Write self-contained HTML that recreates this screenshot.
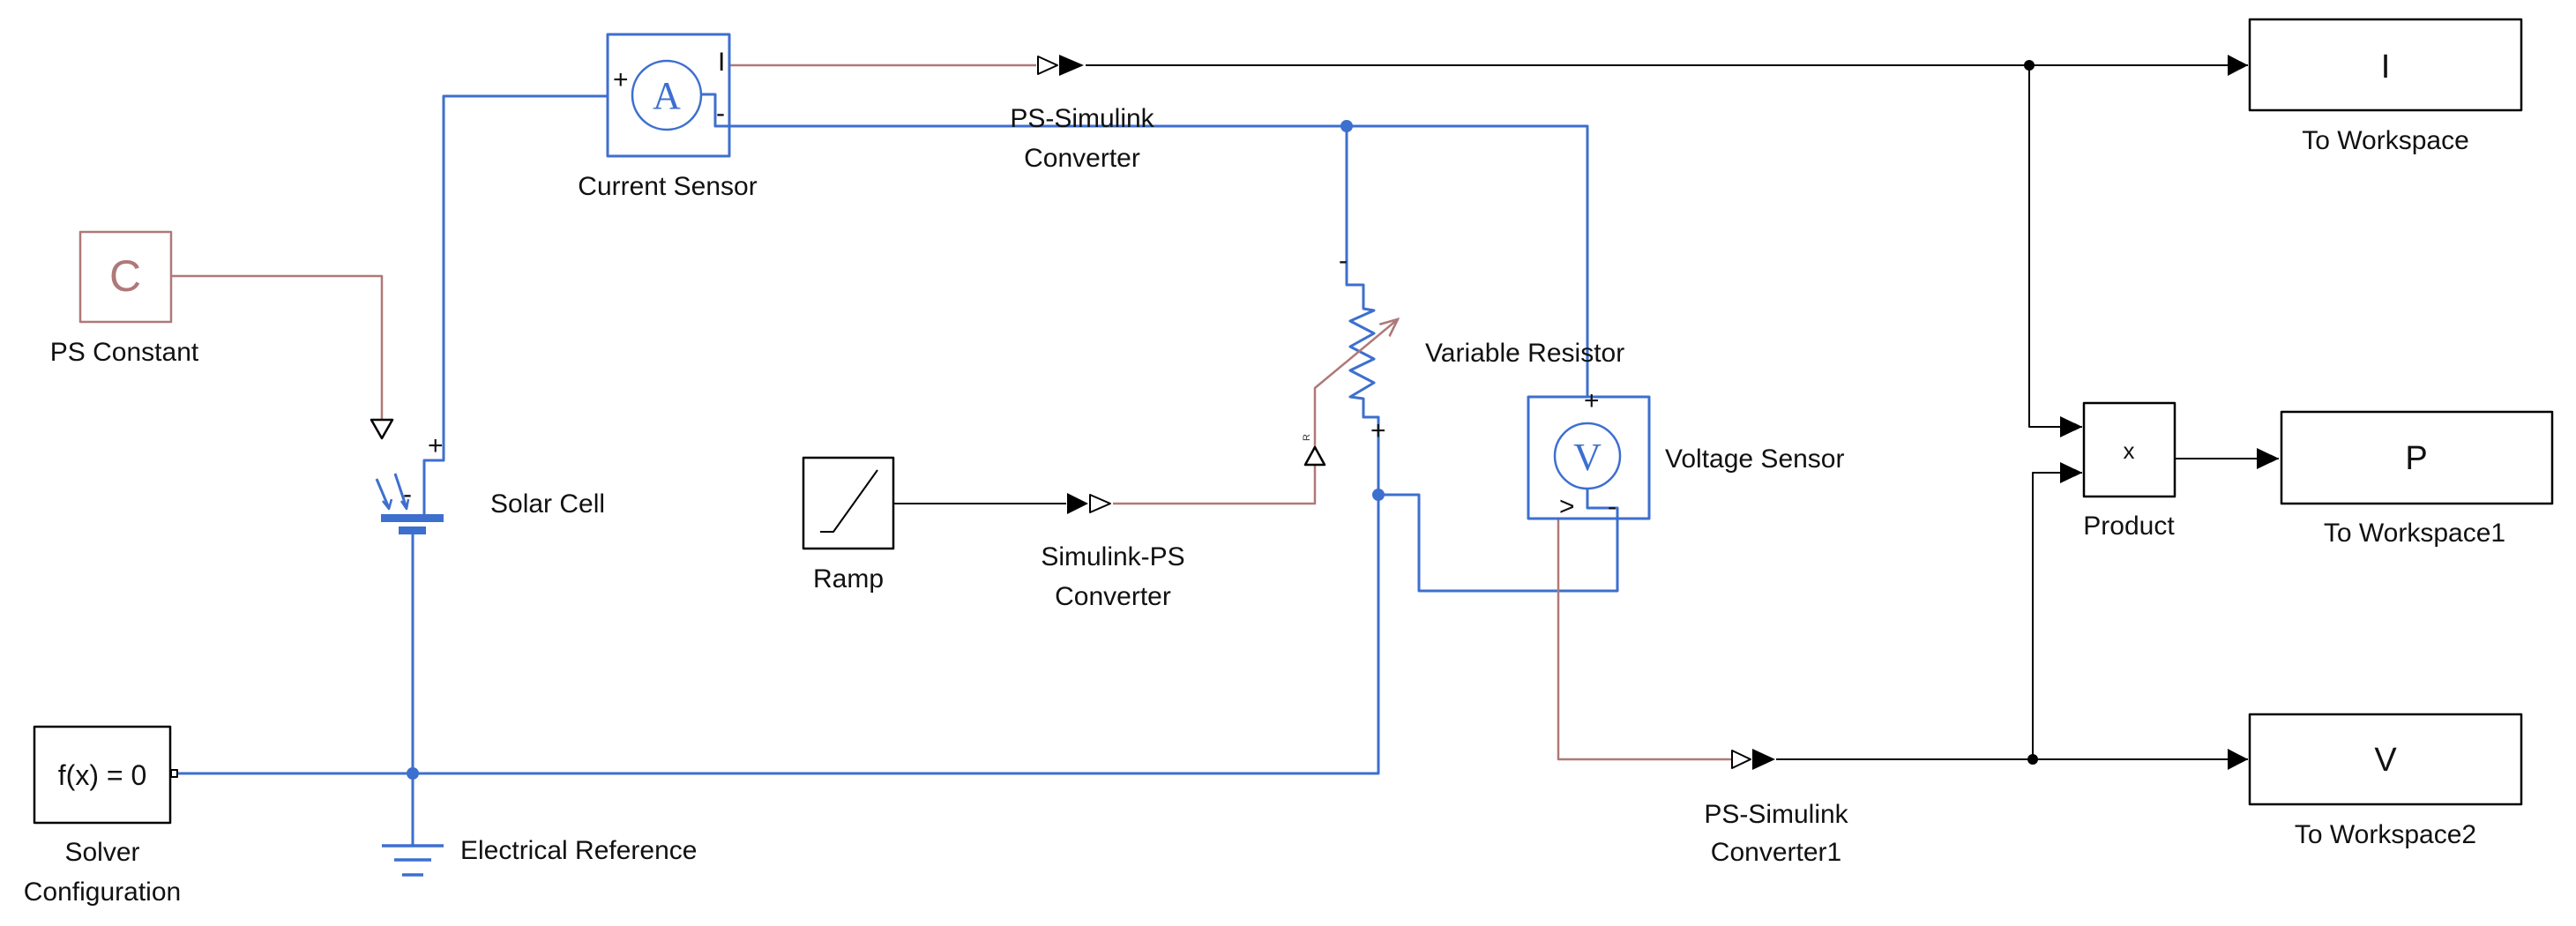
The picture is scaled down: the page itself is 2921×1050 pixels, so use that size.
<!DOCTYPE html>
<html><head><meta charset="utf-8"><style>
html,body{margin:0;padding:0;background:#fff;}
svg{display:block;}
text{font-family:"Liberation Sans",sans-serif;font-size:30px;fill:#111;}
</style></head><body>
<svg width="2921" height="1050" viewBox="0 0 2921 1050" xmlns="http://www.w3.org/2000/svg">
<defs>
<marker id="ab" viewBox="0 0 10 10" refX="10" refY="5" markerWidth="9" markerHeight="9" markerUnits="userSpaceOnUse" orient="auto"><path d="M0,0L10,5L0,10z" fill="#000"/></marker>
<marker id="ar" viewBox="0 0 10 10" refX="9" refY="5" markerWidth="22" markerHeight="22" markerUnits="userSpaceOnUse" orient="auto"><path d="M0,1L9,5L0,9" fill="none" stroke="#b07878" stroke-width="1.2"/></marker>
</defs>
<g fill="none" stroke-linejoin="round">
<g stroke="#3d6fcf" stroke-width="3">
<path d="M689,109 H503 V522 H481 V583"/>
<path d="M795,107 H811 V143 H1800 V450"/>
<path d="M1527,143 V323 H1546 V350 L1558,352 L1531,364 L1558,378 L1531,393 L1558,407 L1531,420 L1558,434 L1531,450 L1546,452 V473 H1563 V877 H468 V606"/>
<path d="M1563,561 H1609 V670 H1834 V576 H1800 V555"/>
<path d="M200,877 H468 V958"/>
<path d="M433,959 H503 M447,975 H489 M456,992 H480" stroke-width="3.5"/>
<path d="M427,543 L441,576 M448,537 L461,576" stroke-width="3"/>
</g>
<rect x="432" y="583" width="71" height="9" fill="#3d6fcf"/>
<rect x="452" y="597" width="31" height="9" fill="#3d6fcf"/>
<path d="M434,568 L441,577 L444,566 M455,568 L461,577 L463,566" stroke="#3d6fcf" stroke-width="2.5"/>
<g stroke="#b07878" stroke-width="2.5">
<path d="M827,74 H1175"/>
<path d="M194,313 H433 V476"/>
<path d="M1262,571 H1491 V528"/>
<path d="M1491,507 V440 L1585,362" marker-end="url(#ar)"/>
<path d="M1767,588 V861 H1963"/>
</g>
<g stroke="#000" stroke-width="2">
<path d="M1231,74 H2549" marker-end="url(#ab)"/>
<path d="M1013,571 H1209"/>
<path d="M2014,861 H2549" marker-end="url(#ab)"/>
<path d="M2301,74 V484 H2361" marker-end="url(#ab)"/>
<path d="M2305,861 V536 H2361" marker-end="url(#ab)"/>
<path d="M2466,520 H2584" marker-end="url(#ab)"/>
</g>
<path d="M2526,62 L2549,74 L2526,86z M2526,849 L2549,861 L2526,873z M2336,472 L2361,484 L2336,496z M2336,524 L2361,536 L2336,548z M2559,508 L2584,520 L2559,532z" fill="#000"/>
<path d="M1177,64 L1199,74 L1177,84z" stroke="#000" stroke-width="2"/>
<path d="M1201,62 L1229,74 L1201,86z" fill="#000"/>
<path d="M1210,559 L1234,571 L1210,583z" fill="#000"/>
<path d="M1236,561 L1259,571 L1236,581z" stroke="#000" stroke-width="2"/>
<path d="M1964,851 L1985,861 L1964,871z" stroke="#000" stroke-width="2"/>
<path d="M1987,849 L2013,861 L1987,873z" fill="#000"/>
<path d="M421,476 L445,476 L433,497z" stroke="#000" stroke-width="2.5"/>
<path d="M1480,527 L1502,527 L1491,507z" stroke="#000" stroke-width="2.5"/>
<g fill="#3d6fcf"><circle cx="1527" cy="143" r="7"/><circle cx="1563" cy="561" r="7"/><circle cx="468" cy="877" r="7"/></g>
<g fill="#000"><circle cx="2301" cy="74" r="6"/><circle cx="2305" cy="861" r="6"/></g>
<rect x="689" y="39" width="138" height="138" stroke="#3d6fcf" stroke-width="3"/>
<circle cx="756" cy="108" r="39" stroke="#3d6fcf" stroke-width="2.5"/>
<rect x="1733" y="450" width="137" height="138" stroke="#3d6fcf" stroke-width="3"/>
<circle cx="1800" cy="517" r="37" stroke="#3d6fcf" stroke-width="2.5"/>
<rect x="91" y="263" width="103" height="102" stroke="#b07878" stroke-width="2.5"/>
<g stroke="#000" stroke-width="2.5">
<rect x="39" y="824" width="154" height="109"/>
<rect x="911" y="519" width="102" height="103"/>
<rect x="2363" y="457" width="103" height="106"/>
<rect x="2551" y="22" width="308" height="103"/>
<rect x="2587" y="467" width="307" height="104"/>
<rect x="2551" y="810" width="308" height="102"/>
<path d="M930,603 H945 L995,533" stroke-width="2"/>
</g>
<rect x="194" y="873" width="7" height="8" stroke="#000" stroke-width="2"/>
</g>
<text x="756" y="123" text-anchor="middle" style="font-family:'Liberation Serif',serif;font-size:44px;fill:#3d6fcf">A</text>
<text x="1800" y="533" text-anchor="middle" style="font-family:'Liberation Serif',serif;font-size:44px;fill:#3d6fcf">V</text>
<text x="142" y="330" text-anchor="middle" style="font-size:50px;fill:#b07878">C</text>
<g style="font-size:11px;fill:#333">
<text x="695" y="100">+</text><text x="814" y="80">I</text><text x="812" y="138">-</text>
<text x="485" y="515">+</text><text x="1554" y="498">+</text><text x="1518" y="305">-</text>
<text x="1796" y="464">+</text><text x="1768" y="584">&gt;</text><text x="1823" y="584">-</text>
<text x="457" y="570">-</text>
</g>
<text x="1485" y="500" style="font-size:11px;fill:#333" transform="rotate(-90 1485 500)">R</text>
<text x="116" y="890" text-anchor="middle" style="font-size:32px">f(x) = 0</text>
<text x="2414" y="520" text-anchor="middle" style="font-size:26px">x</text>
<text x="2705" y="88" text-anchor="middle" style="font-size:38px">I</text>
<text x="2740" y="532" text-anchor="middle" style="font-size:38px">P</text>
<text x="2705" y="874" text-anchor="middle" style="font-size:38px">V</text>
<text x="757" y="221" text-anchor="middle">Current Sensor</text>
<text x="1227" y="144" text-anchor="middle">PS-Simulink</text>
<text x="1227" y="189" text-anchor="middle">Converter</text>
<text x="141" y="409" text-anchor="middle">PS Constant</text>
<text x="556" y="581">Solar Cell</text>
<text x="962" y="666" text-anchor="middle">Ramp</text>
<text x="1262" y="641" text-anchor="middle">Simulink-PS</text>
<text x="1262" y="686" text-anchor="middle">Converter</text>
<text x="1616" y="410">Variable Resistor</text>
<text x="1888" y="530">Voltage Sensor</text>
<text x="522" y="974">Electrical Reference</text>
<text x="116" y="976" text-anchor="middle">Solver</text>
<text x="116" y="1021" text-anchor="middle">Configuration</text>
<text x="2014" y="933" text-anchor="middle">PS-Simulink</text>
<text x="2014" y="976" text-anchor="middle">Converter1</text>
<text x="2414" y="606" text-anchor="middle">Product</text>
<text x="2705" y="169" text-anchor="middle">To Workspace</text>
<text x="2738" y="614" text-anchor="middle">To Workspace1</text>
<text x="2705" y="956" text-anchor="middle">To Workspace2</text>
</svg>
</body></html>
